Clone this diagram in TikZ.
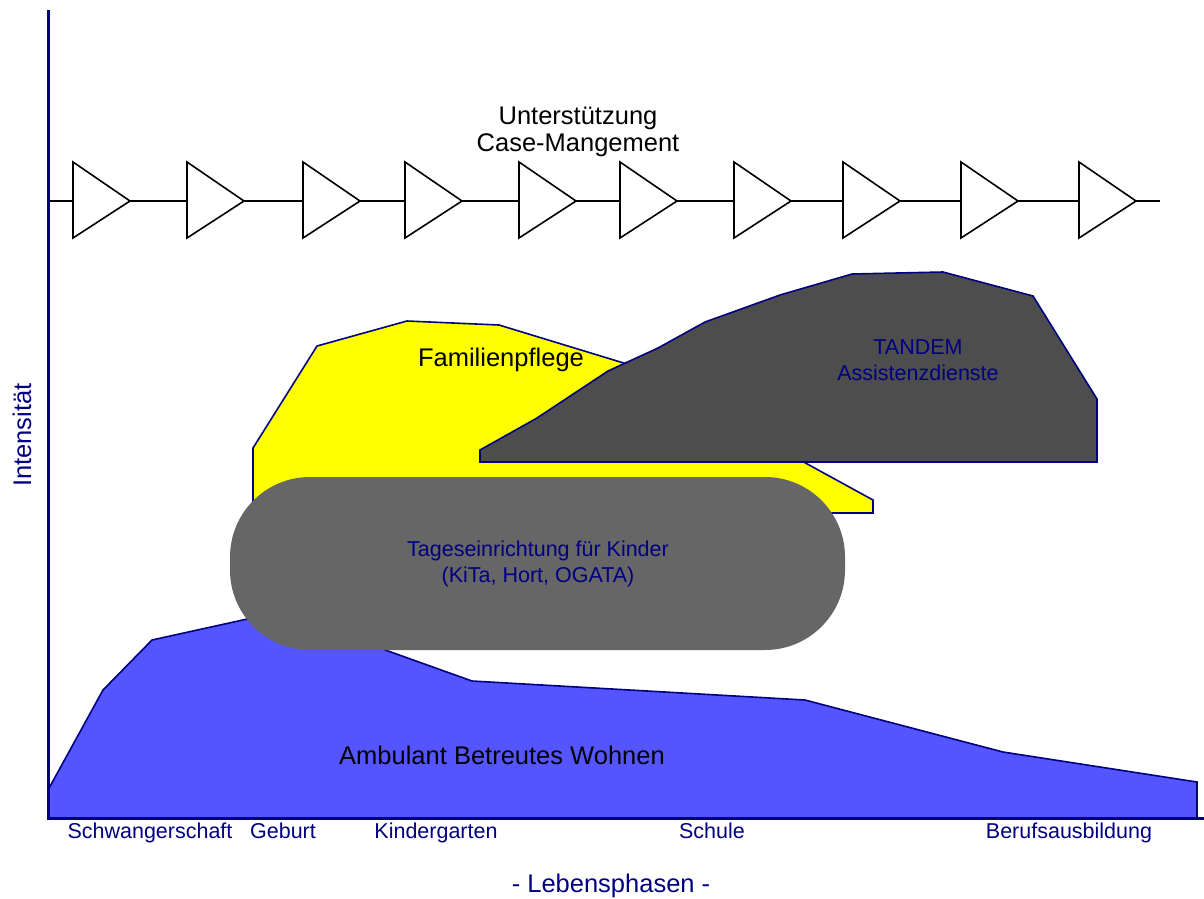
\documentclass[tikz,border=0pt]{standalone}
\usepackage{fontspec}
\setmainfont{Liberation Sans}
\usepackage{xcolor}
\usepackage{tikz}
\definecolor{axisnavy}{HTML}{000080}
\definecolor{wohnblue}{HTML}{5555FF}
\definecolor{pflegeyellow}{HTML}{FFFF00}
\definecolor{tandemgrey}{HTML}{4D4D4D}
\definecolor{kitagrey}{HTML}{666666}

\begin{document}
\begin{tikzpicture}[x=1pt, y=-1pt,
  area/.style={draw=axisnavy, line width=1.6pt, line join=miter},
  bigtext/.style={font=\fontsize{25.5}{27}\selectfont, align=center, inner sep=0pt},
  smalltext/.style={font=\fontsize{21.5}{26}\selectfont, text=axisnavy, align=center, inner sep=0pt},
  phase/.style={font=\fontsize{21.5}{26}\selectfont, text=axisnavy, inner sep=0pt, anchor=base}]
  \useasboundingbox (0,0) rectangle (1204,898);

  \filldraw[area, fill=wohnblue] (48,818) -- (48,790) -- (103,690) -- (152,640) -- (279,612)
    -- (472,681) -- (805,700) -- (1003,752) -- (1197,782) -- (1197,818) -- cycle;
  \filldraw[area, fill=pflegeyellow] (253,513) -- (253,448) -- (317,346) -- (407,321) -- (499,325)
    -- (640,368) -- (800,460) -- (873,500) -- (873,513) -- cycle;
  \filldraw[area, fill=tandemgrey] (480,462) -- (480,450) -- (537,418) -- (608,371) -- (658,348)
    -- (705,322) -- (780,295) -- (852,274) -- (943,272) -- (1033,296) -- (1097,399) -- (1097,462) -- cycle;
  \fill[kitagrey, rounded corners=80pt] (230,477) rectangle (845,650);

  \draw[line width=1.6pt] (48,201) -- (1160,201);
  \foreach \tx in {73,187,303,405,519,620,734,843,961,1079}
    \draw[fill=white, line width=1.6pt] (\tx,162) -- (\tx+57,201) -- (\tx,238) -- cycle;

  \draw[axisnavy, line width=3pt] (48,10) -- (48,818) -- (1204,818);

  \node[bigtext] (support) at (578,132) {Unterstützung\\Case-Mangement};
  \node[bigtext] (pflege) at (501,360) {Familienpflege};
  \node[smalltext] (tandem) at (918,360) {TANDEM\\Assistenzdienste};
  \node[smalltext] (kita) at (538,564) {Tageseinrichtung für Kinder\\(KiTa, Hort, OGATA)};
  \node[bigtext] (wohnen) at (502,755) {Ambulant Betreutes Wohnen};

  \node[phase] (schwanger) at (150,838) {Schwangerschaft};
  \node[phase] (geburt) at (283,838) {Geburt};
  \node[phase] (kiga) at (436,838) {Kindergarten};
  \node[phase] (schule) at (712,838) {Schule};
  \node[phase] (beruf) at (1069,838) {Berufsausbildung};
  \node[bigtext, text=axisnavy, anchor=base] (phasen) at (611,892) {- Lebensphasen -};
  \node[bigtext, text=axisnavy, rotate=90] (intens) at (22,435) {Intensität};
\end{tikzpicture}
\end{document}
